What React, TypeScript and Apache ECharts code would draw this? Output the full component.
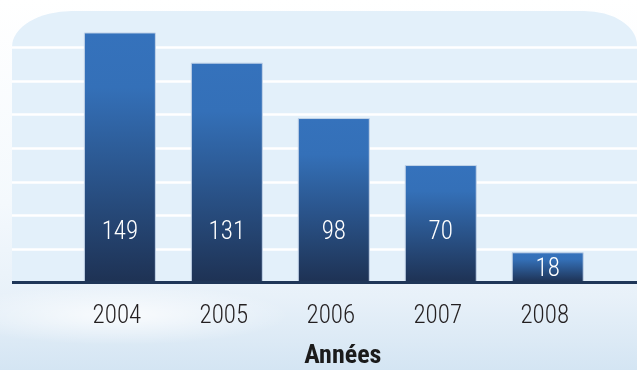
import React, { useEffect, useRef } from "react";
import * as echarts from "echarts";

const categories = ["2004", "2005", "2006", "2007", "2008"];
const values = [149, 131, 98, 70, 18];
const yMin = 0;
const yMax = 160;
const yInterval = 20;
const axisTitle = "Années";

const FONT = "'Roboto Condensed', 'Open Sans Condensed', sans-serif";

const PANEL_D =
  "M12,47 A60,36 0 0 1 72,11 L584,11 A53,34 0 0 1 637,45 L637,283 L12,283 Z";

export default function App() {
  const ref = useRef<HTMLDivElement>(null);
  useEffect(() => {
    if (!ref.current) return;
    document.body.style.margin = "0";
    try {
      echarts.graphic.registerShape("panelShape", echarts.graphic.extendPath(PANEL_D, {}));
    } catch (e) {}
    const chart = echarts.init(ref.current, undefined, { renderer: "svg" });
    const data = values.map((v) =>
      v < 40 ? { value: v, label: { position: "inside" } } : v
    );
    const gridBase = { top: 14, bottom: 87.5, outerBoundsMode: "none", containLabel: false };
    chart.setOption({
      animation: false,
      grid: [
        { ...gridBase, left: 12, right: 0 },
        { ...gridBase, left: 66.4, right: 35.8 },
      ],
      graphic: [
        {
          type: "rect",
          z: -20,
          silent: true,
          shape: { x: 0, y: 0, width: 637, height: 370 },
          style: {
            fill: new echarts.graphic.LinearGradient(0, 0, 0, 1, [
              { offset: 0, color: "#ffffff" },
              { offset: 0.55, color: "#f4f9fd" },
              { offset: 0.8, color: "#e8f1f9" },
              { offset: 1, color: "#d4e5f3" },
            ]),
          },
        },
        {
          type: "ellipse",
          z: -19,
          silent: true,
          shape: { cx: 120, cy: 315, rx: 170, ry: 30 },
          style: {
            fill: new echarts.graphic.RadialGradient(0.5, 0.5, 0.5, [
              { offset: 0, color: "rgba(255,255,255,0.8)" },
              { offset: 1, color: "rgba(255,255,255,0)" },
            ]),
          },
        },
        {
          type: "panelShape",
          z: -10,
          silent: true,
          style: { fill: "#e3f0fa" },
        },
        {
          type: "rect",
          z: 100,
          silent: true,
          shape: { x: 12, y: 281, width: 625, height: 3 },
          style: { fill: "#1f3658" },
        },
      ],
      xAxis: [
        { type: "value", gridIndex: 0, min: 0, max: 1, show: false },
        {
          type: "category",
          gridIndex: 1,
          data: categories,
          axisLine: { show: false },
          axisTick: { show: false },
          splitLine: { show: false },
          axisLabel: {
            margin: 19,
            color: "#231f20",
            fontSize: 25,
            fontWeight: 300,
            fontFamily: FONT,
            padding: [0, 6, 0, 0],
          },
          name: axisTitle,
          nameLocation: "middle",
          nameGap: 58,
          nameTextStyle: {
            fontWeight: "bold",
            fontSize: 26,
            color: "#1b1b1b",
            fontFamily: FONT,
            padding: [0, 0, 0, 18],
          },
        },
      ],
      yAxis: [
        {
          type: "value",
          gridIndex: 0,
          min: yMin,
          max: yMax,
          interval: yInterval,
          axisLabel: { show: false },
          axisLine: { show: false },
          axisTick: { show: false },
          splitLine: {
            show: true,
            showMinLine: false,
            showMaxLine: false,
            lineStyle: { color: "#ffffff", width: 2.5 },
          },
        },
        {
          type: "value",
          gridIndex: 1,
          min: yMin,
          max: yMax,
          interval: yInterval,
          show: false,
          splitLine: { show: false },
        },
      ],
      series: [
        {
          type: "bar",
          xAxisIndex: 1,
          yAxisIndex: 1,
          data,
          barWidth: 72,
          itemStyle: {
            color: new echarts.graphic.LinearGradient(0, 0, 0, 1, [
              { offset: 0, color: "#3572bc" },
              { offset: 0.22, color: "#3470b8" },
              { offset: 1, color: "#1e3254" },
            ]),
            borderColor: "#c2d3e8",
            borderWidth: 1,
          },
          label: {
            show: true,
            position: "insideBottom",
            distance: 40,
            color: "#ffffff",
            fontSize: 25,
            fontWeight: 300,
            fontFamily: FONT,
          },
        },
      ],
    });
    return () => chart.dispose();
  }, []);
  return (
    <div
      ref={ref}
      style={{ position: "fixed", left: 0, top: 0, width: 637, height: 370 }}
    />
  );
}
